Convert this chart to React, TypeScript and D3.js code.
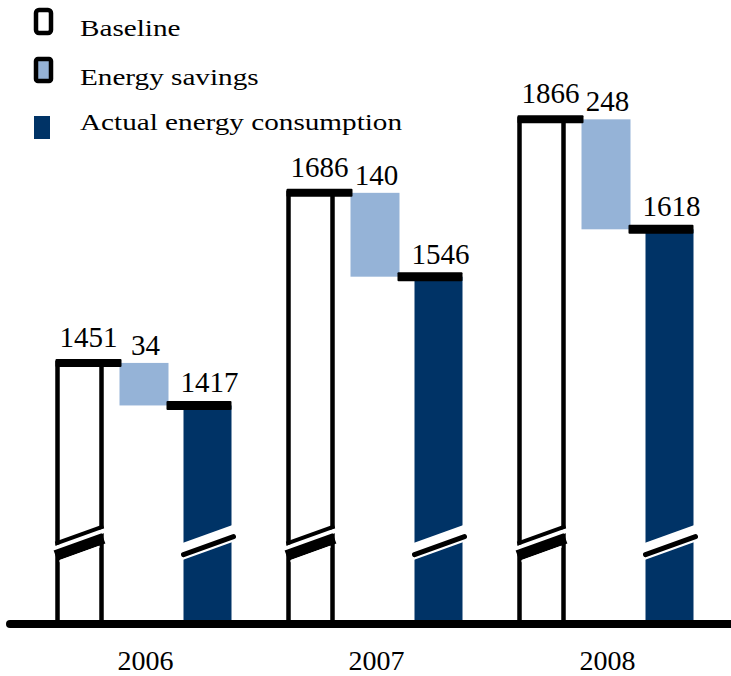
import React from 'react';
import * as d3 from 'd3';

// data
const years = ['2006', '2007', '2008'];
const baseline = [1451, 1686, 1866];
const savings = [34, 140, 248];
const actual = [1417, 1546, 1618];
const legendLabels = ['Baseline', 'Energy savings', 'Actual energy consumption'];

const NAVY = '#003366';
const LIGHT = '#95b3d7';
const FONT = "'Liberation Serif', 'Times New Roman', Times, serif";

const width = 731;
const height = 676;
const axisY = 624;
const plotTop = 108;
const breakY = 547;

// the value axis is cut near AXIS_BREAK; above it the picture is compressed
const AXIS_BREAK = 1345;
const AXIS_MAX = 1900;
const OFFSET = 1270;
const SLOPE = 0.36;

const yScale = d3.scaleLog()
    .domain([AXIS_BREAK - OFFSET, AXIS_MAX - OFFSET])
    .range([543, plotTop]);
const y = (v: number) => yScale(v - OFFSET);

const x0 = d3.scaleBand().domain(years).range([28, 721]);
const x1 = d3.scaleBand()
    .domain(['baseline', 'savings', 'actual'])
    .range([-88, 88])
    .paddingInner(0.25);

const line = d3.line<[number, number]>();

// y of the slanted break line at x, for a bar centred at cx
const breakAt = (x: number, cx: number, off: number) => breakY - SLOPE * (x - cx) + off;

const band = (xl: number, xr: number, cx: number, o1: number, o2: number) =>
    line([
        [xl, breakAt(xl, cx, o1)],
        [xr, breakAt(xr, cx, o1)],
        [xr, breakAt(xr, cx, o2)],
        [xl, breakAt(xl, cx, o2)],
    ]) + 'Z';

const seg = (xl: number, xr: number, cx: number, off: number) =>
    line([[xl, breakAt(xl, cx, off)], [xr, breakAt(xr, cx, off)]]) || '';

const App: React.FC = () => {
    const bw = x1.bandwidth();
    return (
        <svg width={width} height={height}
            style={{ position: 'absolute', left: 0, top: 0, background: '#fff', fontFamily: FONT }}>
            {years.map((yr, i) => {
                const cx = (x0(yr) || 0) + x0.bandwidth() / 2;
                const bx = cx + (x1('baseline') || 0);
                const sx = cx + (x1('savings') || 0);
                const ax = cx + (x1('actual') || 0);
                const bTop = y(baseline[i]);
                const aTop = y(actual[i]);
                const bc = bx + bw / 2;
                const ac = ax + bw / 2;
                return (
                    <g key={yr}>
                        {/* baseline */}
                        <rect x={bx + 2} y={bTop} width={bw - 4} height={axisY - bTop}
                            fill="#fff" stroke="#000" strokeWidth={4.5} />
                        <path d={band(bx - 3, bx + bw + 3, bc, -10, -5)} fill="#fff" />
                        <path d={seg(bx, bx + bw, bc, -12)} stroke="#000" strokeWidth={4} />
                        <path d={seg(bx, bx + bw, bc, 0)} stroke="#000" strokeWidth={11} />
                        <path d={band(bx + 4, bx + bw - 4, bc, 6, 8)} fill="#fff" />

                        {/* savings */}
                        <rect x={sx} y={bTop} width={bw + 1} height={aTop - bTop} fill={LIGHT} />

                        {/* actual */}
                        <rect x={ax} y={aTop} width={bw} height={axisY - aTop} fill={NAVY} />
                        <path d={band(ax - 1, ax + bw + 1, ac, -13, 4)} fill="#fff" />
                        <path d={seg(ax, ax + bw + 2, ac, -1)} stroke="#000" strokeWidth={5}
                            strokeLinecap="round" />

                        {/* caps */}
                        <rect x={bx} y={bTop - 4} width={sx + 2 - bx} height={8} fill="#000" rx={1} />
                        <rect x={sx + bw - 1} y={aTop - 4.5} width={ax + bw - (sx + bw - 1)} height={9}
                            fill="#000" rx={1} />

                        {/* labels */}
                        <text x={(bx + sx + 2) / 2} y={bTop - 16} fontSize={29} textAnchor="middle">
                            {baseline[i]}
                        </text>
                        <text x={sx + bw / 2 + 2} y={bTop - 8} fontSize={29} textAnchor="middle">
                            {savings[i]}
                        </text>
                        <text x={ac + 2} y={aTop - 13} fontSize={29} textAnchor="middle">
                            {actual[i]}
                        </text>
                        <text x={cx + 2} y={670} fontSize={28} textAnchor="middle">{yr}</text>
                    </g>
                );
            })}

            <line x1={10} x2={width} y1={axisY} y2={axisY} stroke="#000" strokeWidth={8}
                strokeLinecap="round" />

            {/* legend */}
            <rect x={36} y={10} width={15} height={23} rx={3} fill="#fff" stroke="#000" strokeWidth={4.5} />
            <rect x={36} y={59} width={15} height={22} rx={2} fill={LIGHT} stroke="#000" strokeWidth={4.5} />
            <rect x={34} y={116} width={16} height={23} fill={NAVY} />
            {legendLabels.map((t, i) => (
                <text key={t} transform={`translate(80,${[36, 85, 130][i]}) scale(1.27,1)`} fontSize={23}>
                    {t}
                </text>
            ))}
        </svg>
    );
};

export default App;
